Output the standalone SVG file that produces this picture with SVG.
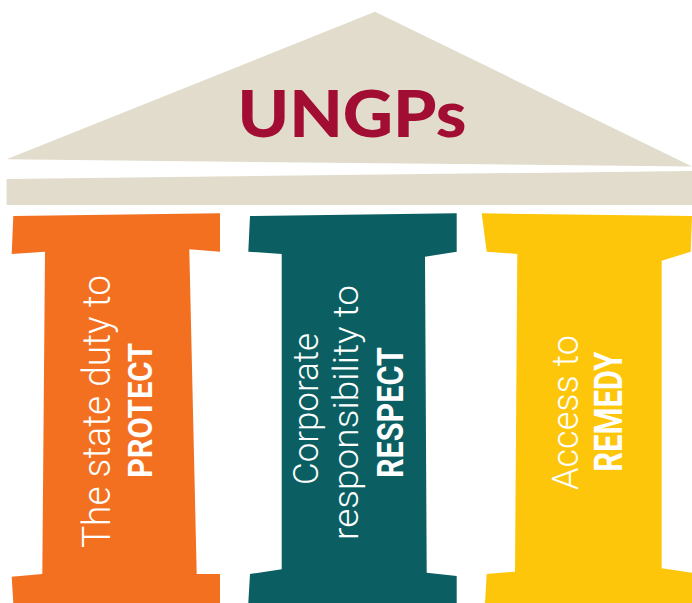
<svg xmlns="http://www.w3.org/2000/svg" width="692" height="603" viewBox="0 0 692 603">
<style>
.roof{fill:#e1dccb}
.lt{font-family:Roboto,"Liberation Sans",sans-serif;font-weight:300;fill:#ffffff;text-anchor:middle}
.bd{font-family:Roboto,"Liberation Sans",sans-serif;font-weight:700;fill:#ffffff;text-anchor:middle}
.title{font-family:Lato,"DejaVu Sans",sans-serif;font-weight:900;fill:#a20d34;text-anchor:middle}
</style>
<rect width="692" height="603" fill="#ffffff"/>
<g id="roof">
<polygon class="roof" points="375,11.7 692,166.5 6.6,159.3"/>
<text class="title" x="352" y="137" font-size="65" textLength="229" lengthAdjust="spacingAndGlyphs">UNGPs</text>
</g>
<g id="beam">
<polygon class="roof" points="6.6,179 692,171 692,205 6.6,205"/>
</g>
<g id="pillar-protect">
<polygon fill="#f37021" points="13.3,216 220,213.3 220,251.7 189.3,249.3 196.7,574 220,574 220,603 13.3,603 11.7,576.7 42.3,574 45,251.7 11.7,254"/>
<text class="lt" transform="translate(110,411.5) rotate(-90)" font-size="39" textLength="273" lengthAdjust="spacingAndGlyphs">The state duty to</text>
<text class="bd" transform="translate(152,410.5) rotate(-90)" font-size="33" textLength="135" lengthAdjust="spacingAndGlyphs">PROTECT</text>
</g>
<g id="pillar-respect">
<polygon fill="#0b5f62" points="250,216 456.7,213.3 456.7,251.7 425,256.7 426.7,572.7 456.7,576 456.7,603 248.3,603 250,574 281.7,569.3 281.7,254 248.3,251.7"/>
<text class="lt" transform="translate(318,409) rotate(-90)" font-size="35" textLength="152" lengthAdjust="spacingAndGlyphs">Corporate</text>
<text class="lt" transform="translate(358,412.5) rotate(-90)" font-size="35" textLength="255" lengthAdjust="spacingAndGlyphs">responsibility to</text>
<text class="bd" transform="translate(403,412.5) rotate(-90)" font-size="37" textLength="131" lengthAdjust="spacingAndGlyphs">RESPECT</text>
</g>
<g id="pillar-remedy">
<polygon fill="#fdc60b" points="481.7,213.3 692,216 690.7,251.7 661.7,260.7 661.7,568.3 692,572.7 692,603 485,603 486.7,574 515,571.7 517.3,254 486.7,251.7"/>
<text class="lt" transform="translate(578.3,412.5) rotate(-90)" font-size="37" textLength="155" lengthAdjust="spacingAndGlyphs">Access to</text>
<text class="bd" transform="translate(621.7,411.7) rotate(-90)" font-size="39" textLength="120" lengthAdjust="spacingAndGlyphs">REMEDY</text>
</g>
<g id="connectors"></g>
</svg>
